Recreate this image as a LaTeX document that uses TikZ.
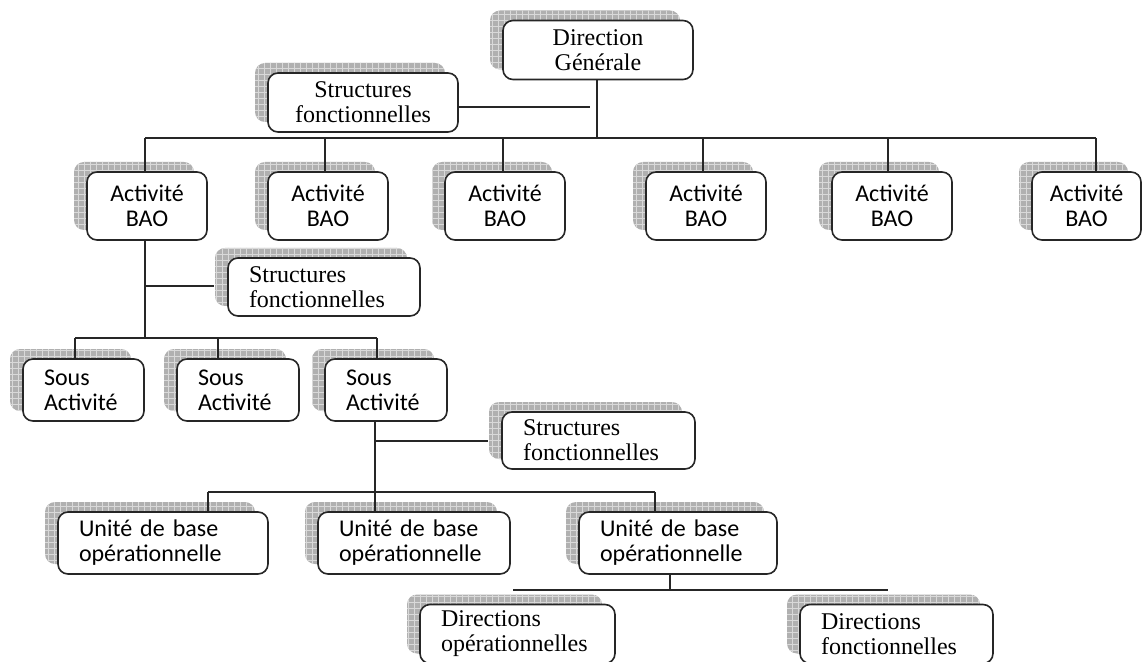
\documentclass[tikz,border=0pt]{standalone}
\usepackage{fontspec}
\setmainfont{Liberation Serif}
\newfontfamily\calib{Carlito}
\usetikzlibrary{shadows,patterns}
\begin{document}
\begin{tikzpicture}[x=0.5pt,y=-0.5pt,
  box/.style={draw=black!85, line width=0.8pt, rounded corners=5pt, fill=white,
    general shadow={fill=gray!62, shadow xshift=-6.5pt, shadow yshift=5pt},
    general shadow={pattern=grid, pattern color=gray!30, shadow xshift=-6.5pt, shadow yshift=5pt},
    inner sep=0pt},
  serif/.style={font=\fontsize{12}{12.5}\selectfont},
  sans/.style={font=\calib\fontsize{12}{12.5}\selectfont},
  cbox/.style 2 args={box, minimum width=#1, minimum height=#2, align=center},
  lbox/.style 2 args={box, text width=#1, minimum height=#2, align=left, inner xsep=10.5pt},
  link/.style={draw=black!85, line width=0.75pt}
]
\useasboundingbox (0,0) rectangle (1144,662);

% top level
\node[cbox={95pt}{29.5pt}, serif] (dg) at (598,50) {Direction\\Générale};
\node[cbox={95pt}{29.5pt}, serif] (sf1) at (363,102.5) {Structures\\fonctionnelles};

% activities
\node[cbox={60pt}{34pt}, sans] (ab1) at (147,206) {Activité\\BAO};
\node[cbox={60pt}{34pt}, sans] (ab2) at (328,206) {Activité\\BAO};
\node[cbox={60pt}{34pt}, sans] (ab3) at (505,206) {Activité\\BAO};
\node[cbox={60pt}{34pt}, sans] (ab4) at (706,206) {Activité\\BAO};
\node[cbox={60pt}{34pt}, sans] (ab5) at (892,206) {Activité\\BAO};
\node[cbox={54.5pt}{34pt}, sans] (ab6) at (1086.5,206) {Activité\\BAO};

\node[lbox={75pt}{29pt}, serif] (sf2) at (324,287) {Structures\\fonctionnelles};

% sub-activities
\node[lbox={39.5pt}{31pt}, sans] (sa1) at (83.5,390) {Sous\\Activité};
\node[lbox={40pt}{31pt}, sans] (sa2) at (238,390) {Sous\\Activité};
\node[lbox={40pt}{31pt}, sans] (sa3) at (386,390) {Sous\\Activité};

\node[lbox={75.5pt}{28.5pt}, serif] (sf3) at (598.5,440.5) {Structures\\fonctionnelles};

% operational base units
\node[lbox={84pt}{31pt}, sans] (u1) at (163,543) {Unité de base\\opérationnelle};
\node[lbox={75pt}{31pt}, sans] (u2) at (414,543) {Unité de base\\opérationnelle};
\node[lbox={78pt}{31pt}, sans] (u3) at (678,543) {Unité de base\\opérationnelle};

% directions
\node[lbox={76.5pt}{29.5pt}, serif] (do) at (517.5,634) {Directions\\opérationnelles};
\node[lbox={75.5pt}{29.5pt}, serif] (df) at (896.5,634) {Directions\\fonctionnelles};

% junction points
\coordinate (b0) at (597,138);
\coordinate (t1) at (590,107);
\coordinate (j1) at (145,138);
\coordinate (j2) at (325,138);
\coordinate (j3) at (503,138);
\coordinate (j4) at (703,138);
\coordinate (j5) at (888,138);
\coordinate (j6) at (1096,138);
\coordinate (k0) at (145,338);
\coordinate (k1) at (145,286);
\coordinate (m1) at (75,338);
\coordinate (m2) at (218,338);
\coordinate (m3) at (377,338);
\coordinate (n0) at (375,492);
\coordinate (n1) at (375,441);
\coordinate (p1) at (208,492);
\coordinate (p3) at (655,492);
\coordinate (q0) at (670,590);
\coordinate (q1) at (513,590);
\coordinate (q2) at (888,590);

% connectors
\draw[link] (b0 |- dg.south) -- (b0);
\draw[link] (sf1.east |- t1) -- (t1);
\draw[link] (j1) -- (j6);
\foreach \i in {1,...,6} \draw[link] (j\i) -- (j\i |- ab\i.north);
\draw[link] (ab1.south -| k0) -- (k0);
\draw[link] (k1) -- ([xshift=-6.5pt]sf2.west |- k1);
\draw[link] (m1) -- (m3);
\foreach \i in {1,2,3} \draw[link] (m\i) -- (m\i |- sa\i.north);
\draw[link] (sa3.south -| n0) -- (n0);
\draw[link] (n1) -- ([xshift=-6.5pt]sf3.west |- n1);
\draw[link] (p1) -- (p3);
\draw[link] (p1) -- (p1 |- u1.north);
\draw[link] (n0) -- (n0 |- u2.north);
\draw[link] (p3) -- (p3 |- u3.north);
\draw[link] (u3.south -| q0) -- (q0);
\draw[link] (q1) -- (q2);
\end{tikzpicture}
\end{document}
